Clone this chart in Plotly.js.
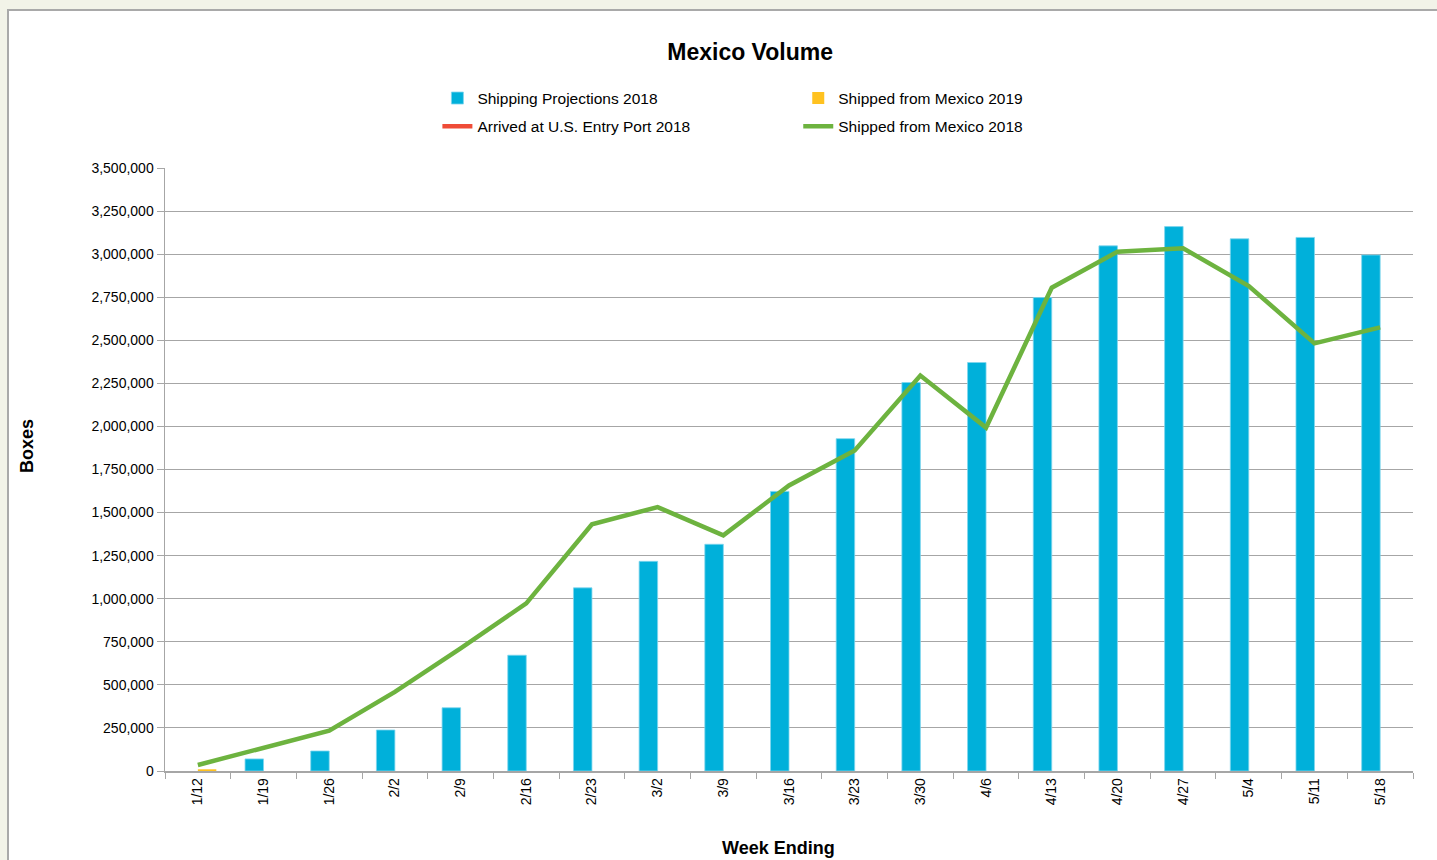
<!DOCTYPE html>
<html>
<head>
<meta charset="utf-8">
<script src="https://cdn.plot.ly/plotly-3.0.1.min.js"></script>
<style>
  html, body { margin: 0; padding: 0; width: 1437px; height: 860px; overflow: hidden; background: #f2f3e8; }
  #frame { position: absolute; left: 7px; top: 9px; width: 1430px; height: 851px;
           border-left: 2px solid #a9a9a9; border-top: 2px solid #a9a9a9; background: #ffffff; box-sizing: border-box; }
  #chart { width: 1428px; height: 849px; }
</style>
</head>
<body>
<div id="frame"><div id="chart"></div></div>
<script>
// Week-ending dates
const weeks = ['1/12','1/19','1/26','2/2','2/9','2/16','2/23','3/2','3/9','3/16',
               '3/23','3/30','4/6','4/13','4/20','4/27','5/4','5/11','5/18'];

// Boxes per week
const projections2018 = [null, 70000, 116000, 238000, 367000, 672000, 1063000, 1217000, 1316000, 1623000,
                         1929000, 2255000, 2371000, 2748000, 3048000, 3160000, 3089000, 3097000, 2995000];
const shipped2019 = [10000, null, null, null, null, null, null, null, null, null,
                     null, null, null, null, null, null, null, null, null];
const arrived2018 = [null, null, null, null, null, null, null, null, null, null,
                     null, null, null, null, null, null, null, null, null];
const shipped2018 = [35000, 133000, 234000, 459000, 712000, 973000, 1432000, 1532000, 1368000, 1657000,
                     1860000, 2295000, 1993000, 2805000, 3014000, 3034000, 2815000, 2482000, 2575000];

const yTicks = [0,250000,500000,750000,1000000,1250000,1500000,1750000,2000000,2250000,2500000,2750000,3000000,3250000,3500000];

const FONT = 'Arial, "Liberation Sans", sans-serif';

const traces = [
  { type: 'bar', name: 'Shipping Projections 2018', x: weeks, y: projections2018,
    marker: { color: '#00b0da', line: { color: '#7fd6ee', width: 0.8 } },
    legend: 'legend', legendgroup: 'a', hoverinfo: 'x+y' },
  { type: 'bar', name: 'Shipped from Mexico 2019', x: weeks, y: shipped2019,
    marker: { color: '#ffc220' },
    legend: 'legend2', legendgroup: 'b', hoverinfo: 'x+y' },
  { type: 'scatter', mode: 'lines', name: 'Arrived at U.S. Entry Port 2018', x: weeks, y: arrived2018,
    line: { color: '#ef4c37', width: 4.5 },
    legend: 'legend', legendgroup: 'c' },
  { type: 'scatter', mode: 'lines', name: 'Shipped from Mexico 2018', x: weeks, y: shipped2018,
    line: { color: '#6db33f', width: 4.5 },
    legend: 'legend2', legendgroup: 'd' }
];

const legendCommon = {
  orientation: 'v', traceorder: 'grouped', tracegroupgap: 5,
  font: { family: FONT, size: 15.5, color: '#000' },
  bgcolor: 'rgba(0,0,0,0)', xref: 'container', yref: 'container',
  xanchor: 'left', yanchor: 'top', itemwidth: 30
};

const layout = {
  width: 1428, height: 849,
  margin: { l: 156, r: 24, t: 157, b: 89, autoexpand: false },
  paper_bgcolor: '#ffffff', plot_bgcolor: '#ffffff',
  font: { family: FONT, color: '#000' },
  title: { text: '<b>Mexico Volume</b>', font: { family: FONT, size: 23, color: '#000' },
           xref: 'container', yref: 'container', x: 0.519, xanchor: 'center', y: 1 - 41/849, yanchor: 'middle' },
  barmode: 'group', bargap: 0.437, bargroupgap: 0,
  showlegend: true,
  legend: Object.assign({}, legendCommon, { x: 0.3, y: 0.917 }),
  legend2: Object.assign({}, legendCommon, { x: 0.5527, y: 0.917 }),
  xaxis: {
    type: 'category', tickangle: -90, automargin: false,
    ticks: 'outside', tickson: 'boundaries', ticklen: 6, tickcolor: '#a6a6a6',
    showline: true, linecolor: '#a6a6a6', linewidth: 1.5,
    showgrid: false,
    tickfont: { family: FONT, size: 14, color: '#000' }
  },
  yaxis: {
    range: [0, 3500000], tickvals: yTicks, tickformat: ',d', automargin: false,
    ticks: 'outside', ticklen: 7, tickcolor: '#a6a6a6',
    showline: true, linecolor: '#a6a6a6', linewidth: 1.5,
    showgrid: true, gridcolor: '#a6a6a6', gridwidth: 1,
    zeroline: false,
    tickfont: { family: FONT, size: 14, color: '#000' }
  },
  // axis titles
  annotations: [
    { text: '<b>Week Ending</b>', xref: 'paper', yref: 'paper', x: 0.4912, y: -0.1277,
      xanchor: 'center', yanchor: 'middle', showarrow: false,
      font: { family: FONT, size: 18, color: '#000' } },
    { text: '<b>Boxes</b>', xref: 'paper', yref: 'paper', x: -0.1106, y: 0.539, textangle: -90,
      xanchor: 'center', yanchor: 'middle', showarrow: false,
      font: { family: FONT, size: 18, color: '#000' } }
  ]
};

Plotly.newPlot('chart', traces, layout, { displayModeBar: false, staticPlot: true });
</script>
</body>
</html>
